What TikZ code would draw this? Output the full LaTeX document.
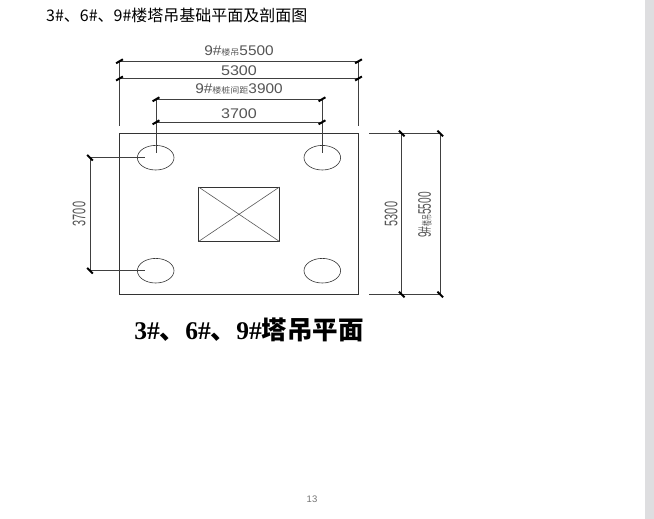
\documentclass[tikz,border=0pt]{standalone}
\usepackage{xcolor}
\usepackage{fontspec}
\setmainfont{Liberation Sans}
\newfontfamily\cjkfont{Noto Sans CJK SC}
\newfontfamily\titlefont{Liberation Serif}

\definecolor{scrollgray}{HTML}{DEDEE0}
\definecolor{dimgray}{HTML}{555555}

\newcommand{\smallcjk}[1]{{\cjkfont\fontsize{8.2}{8}\selectfont #1}}

\tikzset{
    plan/.style={draw=black!80, line width=0.8pt},
    dimline/.style={draw=black!75, line width=0.8pt},
    dimtick/.style={draw=black, line width=2pt},
    dimtext/.style={text=dimgray, inner sep=0pt, font=\fontsize{14}{14}\selectfont},
}

\begin{document}
\begin{tikzpicture}[x=1pt, y=-1pt]
    \useasboundingbox (0, 0) rectangle (654, 519);
    \fill[scrollgray] (645, 0) rectangle (654, 519);

    \node[anchor=west, inner sep=0pt, font=\cjkfont\fontsize{16}{16}\selectfont] (title) at (46, 15) {3\#、6\#、9\#楼塔吊基础平面及剖面图};
    \node[inner sep=0pt, font=\titlefont\bfseries\fontsize{25.5}{25}\selectfont] (subtitle) at (249, 330) {3\#{\cjkfont\bfseries 、}6\#{\cjkfont\bfseries 、}9\#{\cjkfont\bfseries 塔吊平面}};
    \node[inner sep=0pt, text=black!55, font=\fontsize{9.5}{9}\selectfont] (pagenum) at (312, 499.5) {13};

    % base slab, tower section, piles
    \draw[plan] (119.5, 133.5) rectangle (358.5, 294.5);
    \draw[plan] (198.5, 187) rectangle (279.5, 241.5);
    \draw[draw=black!65, line width=0.6pt] (198.5, 187) -- (279.5, 241.5) (198.5, 241.5) -- (279.5, 187);
    \foreach \x in {155.7, 322.3}
        \foreach \y in {157.7, 270.7}
            \draw[draw=black!80, line width=0.6pt] (\x, \y) ellipse (18.3 and 12.3);

    % top dimensions
    \draw[dimline] (119.5, 61.3) -- (358.5, 61.3);
    \draw[dimline] (119.5, 78.5) -- (358.5, 78.5);
    \draw[dimline] (119.5, 61.3) -- (119.5, 126);
    \draw[dimline] (358.5, 61.3) -- (358.5, 126);
    \draw[dimline] (156, 99.3) -- (322, 99.3);
    \draw[dimline] (156, 122.3) -- (322, 122.3);
    \draw[dimline] (156, 99.3) -- (156, 152.5);
    \draw[dimline] (322, 99.3) -- (322, 152.5);

    % left dimension
    \draw[dimline] (90, 157.7) -- (90, 270.7);
    \draw[dimline] (90, 157.7) -- (145, 157.7);
    \draw[dimline] (90, 270.7) -- (145, 270.7);

    % right dimensions
    \draw[dimline] (401.7, 133.5) -- (401.7, 294.5);
    \draw[dimline] (440.3, 133.5) -- (440.3, 294.5);
    \draw[dimline] (369, 133.5) -- (440.3, 133.5);
    \draw[dimline] (369, 294.5) -- (440.3, 294.5);

    \foreach \x/\y in {119.5/61.3, 358.5/61.3, 119.5/78.5, 358.5/78.5, 156/99.3, 322/99.3, 156/122.3, 322/122.3}
        \draw[dimtick] (\x, \y) +(-3.4, 2) -- +(3.4, -2);
    \foreach \x/\y in {90/157.7, 90/270.7, 401.7/133.5, 440.3/133.5, 401.7/294.5, 440.3/294.5}
        \draw[dimtick] (\x, \y) +(-2.8, -2.8) -- +(2.8, 2.8);

    \node[dimtext] (topouter) at (239, 51) {\scalebox{1.1}[1]{9\#\smallcjk{楼吊}5500}};
    \node[dimtext] (topslab) at (239, 71) {\scalebox{1.15}[1]{5300}};
    \node[dimtext] (toppile) at (239, 89) {\scalebox{1.1}[1]{9\#\smallcjk{楼桩间距}3900}};
    \node[dimtext] (toppilein) at (239, 114) {\scalebox{1.15}[1]{3700}};
    \node[dimtext, rotate=90] (leftpile) at (79, 214) {\scalebox{0.78}[1.3]{3700}};
    \node[dimtext, rotate=90] (rightslab) at (391, 214) {\scalebox{0.78}[1.3]{5300}};
    \node[dimtext, rotate=90] (rightouter) at (425, 215) {\scalebox{0.72}[1.3]{9\#\smallcjk{楼吊}5500}};
\end{tikzpicture}
\end{document}
